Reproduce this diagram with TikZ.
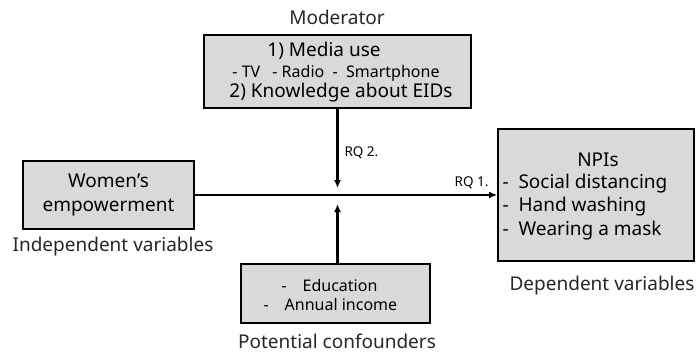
\documentclass[tikz,border=0pt]{standalone}
\usepackage{fontspec}
\setmainfont{Noto Sans}
\usetikzlibrary{arrows.meta}
\definecolor{boxgray}{HTML}{D9D9D9}
\begin{document}
\begin{tikzpicture}[x=1pt,y=-1pt,
  varbox/.style={draw=black, line width=1.8pt, fill=boxgray, inner sep=0pt},
  captxt/.style={font=\fontsize{19}{21}\selectfont, text=black!85},
  bigtxt/.style={font=\fontsize{19}{24}\selectfont},
  smalltxt/.style={font=\fontsize{16}{19}\selectfont},
  rqtxt/.style={font=\fontsize{13.5}{15}\selectfont},
  linkarrow/.style={line width=2.2pt, -{Latex[length=8pt,width=7pt]}}]
\useasboundingbox (0,0) rectangle (700,353);

% boxes
\node[varbox, minimum width=267pt, minimum height=73pt] (mod) at (337.5,71.5) {};
\node[varbox, minimum width=171pt, minimum height=68pt] (wom) at (108.5,195) {};
\node[varbox, minimum width=196pt, minimum height=132pt] (npi) at (596,195) {};
\node[varbox, minimum width=189pt, minimum height=59pt] (conf) at (335.5,293.5) {};

% box texts
\node[bigtxt] (m1) at (324,51) {1) Media use};
\node[smalltxt] (m2) at (336,73) {- TV\enspace\ - Radio\ \ -\ \ Smartphone};
\node[bigtxt] (m3) at (341,93) {2) Knowledge about EIDs};
\node[bigtxt, align=center] (w1) at (108.5,195) {Women’s\\[0pt]empowerment};
\node[bigtxt] (n0) at (598,160) {NPIs};
\node[bigtxt, anchor=west] (n1) at (499,184) {-\ \ Social distancing};
\node[bigtxt, anchor=west] (n2) at (499,207) {-\ \ Hand washing};
\node[bigtxt, anchor=west] (n3) at (499,231) {-\ \ Wearing a mask};
\node[smalltxt, anchor=west] (c1) at (278,285) {-\quad Education};
\node[smalltxt, anchor=west] (c2) at (260,304) {-\quad Annual income};

% captions
\node[captxt] (lmod) at (337,17) {Moderator};
\node[captxt] (lind) at (113,247) {Independent variables};
\node[captxt] (ldep) at (602,286) {Dependent variables};
\node[captxt] (lcon) at (337,341) {Potential confounders};

% connectors
\coordinate (hit) at (mod.south |- wom.east);
\draw[linkarrow] (wom.east) -- (npi.west |- wom.east);
\draw[linkarrow] (mod.south) -- ([yshift=7pt]hit);
\draw[linkarrow] (conf.north -| mod.south) -- ([yshift=-9pt]hit);

% path labels
\node[rqtxt, anchor=west] (rq2) at (341,153) {RQ 2.};
\node[rqtxt, anchor=east] (rq1) at (492,183) {RQ 1.};
\end{tikzpicture}
\end{document}
